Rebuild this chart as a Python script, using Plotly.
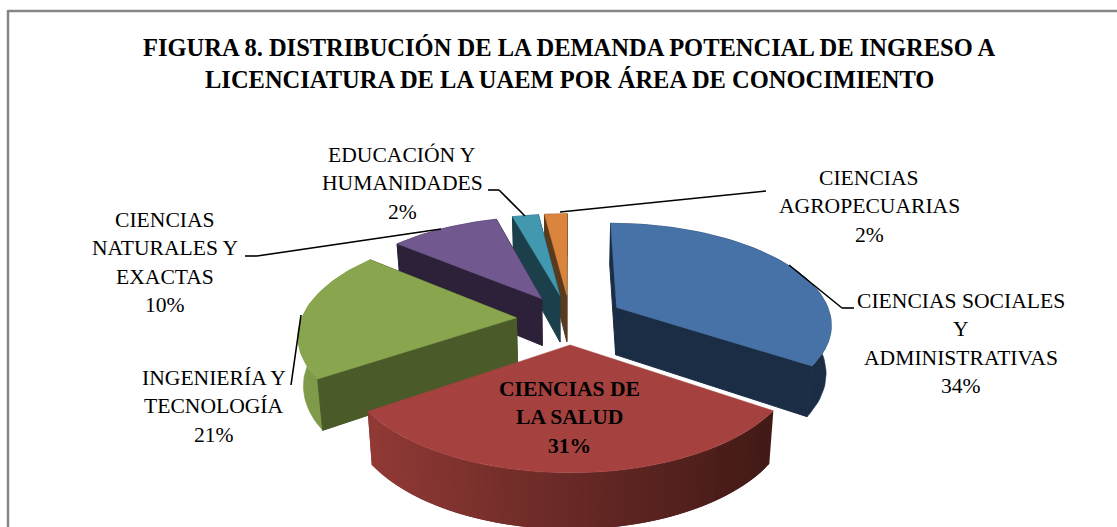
import math
import plotly.graph_objects as go

# ---- data ----
categories = ["CIENCIAS SOCIALES Y ADMINISTRATIVAS", "CIENCIAS DE LA SALUD", "INGENIERÍA Y TECNOLOGÍA",
              "CIENCIAS NATURALES Y EXACTAS", "EDUCACIÓN Y HUMANIDADES", "CIENCIAS AGROPECUARIAS"]
percent = [34, 31, 21, 10, 2, 2]                 # as printed on the labels
share = [34.4, 31.1, 20.5, 9.7, 2.3, 2.0]        # unrounded slice sizes
top_colors = ["#4672a7", "#a5423f", "#89a54e", "#71588f", "#4198af", "#db843d"]
wall_colors = ["#1b2d45", "#6b2a28", "#4a5a28", "#2c2139", "#1b3f4b", "#5a3a1c"]
curve_colors = ["#1b2d45", None, "#7f9a48", "#2c2139", "#1b3f4b", "#5a3a1c"]
title_lines = ["FIGURA 8. DISTRIBUCIÓN DE LA DEMANDA POTENCIAL DE INGRESO A",
               "LICENCIATURA DE LA UAEM POR ÁREA DE CONOCIMIENTO"]
label_names = [
    ["CIENCIAS SOCIALES", "Y", "ADMINISTRATIVAS"],
    ["CIENCIAS DE", "LA SALUD"],
    ["INGENIERÍA Y", "TECNOLOGÍA"],
    ["CIENCIAS", "NATURALES Y", "EXACTAS"],
    ["EDUCACIÓN Y", "HUMANIDADES"],
    ["CIENCIAS", "AGROPECUARIAS"],
]

# ---- layout / projection parameters ----
W, H = 1117, 527
CX, CY, A, B, K = 570, 319, 215, 100, 0.15
EXPLODE, DEPTH, TAPER = 0.25, 48, 0.02
FONT = "Liberation Serif"
LABEL_SIZE, TITLE_SIZE = 21.6, 24.5
LINE_H = 28.4
label_pos = [(961, 301), (569, 389), (214, 378), (165, 220), (402, 155), (869, 178)]
leaders = [
    [(789, 265), (842, 308), (854, 308)],
    [(301, 315), (291, 385)],
    [(441, 229), (257, 256), (245, 256)],
    [(525, 216), (499, 190), (488, 190)],
    [(560, 212), (766, 191)],
]
draw_order = [5, 4, 3, 0, 2, 1]
RED_L, RED_R = (146, 58, 54), (66, 26, 23)


def proj(X, Y, z=0.0):
    w = 1 - K * Y
    return CX + A * X / w * (1 - TAPER * z), CY + B * Y / w + z * DEPTH / (1 - 0.12 * Y)


def poly(pts, color, lw=1.0):
    xs = [p[0] for p in pts] + [pts[0][0]]
    ys = [p[1] for p in pts] + [pts[0][1]]
    return go.Scatter(x=xs, y=ys, mode="lines", fill="toself", fillcolor=color,
                      line=dict(color=color, width=lw), hoverinfo="skip", showlegend=False)


fig = go.Figure()
total = sum(share)
bounds = [0.0]
for v in share:
    bounds.append(bounds[-1] + v / total * 2 * math.pi)

for i in draw_order:
    t0, t1 = bounds[i], bounds[i + 1]
    m = (t0 + t1) / 2
    ox, oy = EXPLODE * math.sin(m), -EXPLODE * math.cos(m)
    n = max(8, int((t1 - t0) * 30))
    rim = [(ox + math.sin(t0 + (t1 - t0) * j / n), oy - math.cos(t0 + (t1 - t0) * j / n)) for j in range(n + 1)]
    # outer curved wall
    if curve_colors[i]:
        pts = [proj(*r) for r in rim] + [proj(*r, 1) for r in reversed(rim)]
        fig.add_trace(poly(pts, curve_colors[i], 0.5))
    else:
        xa, xb = proj(*rim[-1])[0], proj(*rim[0])[0]
        for j in range(n):
            f = (proj(*rim[j])[0] - xa) / (xb - xa)
            c = "rgb(%d,%d,%d)" % tuple(int(RED_L[q] + (RED_R[q] - RED_L[q]) * f) for q in range(3))
            e = min(j + 2, n)
            fig.add_trace(poly([proj(*rim[j]), proj(*rim[e]), proj(*rim[e], 1), proj(*rim[j], 1)], c, 0))
    # radial walls, drawn over the curved wall so the shared edge has no seam (red's face away and stay hidden)
    if curve_colors[i]:
        for (rx, ry) in (rim[0], rim[-1]):
            fig.add_trace(poly([proj(ox, oy), proj(rx, ry), proj(rx, ry, 1), proj(ox, oy, 1)], wall_colors[i], 1.0))
    # top face
    fig.add_trace(poly([proj(ox, oy)] + [proj(*r) for r in rim], top_colors[i], 0.5))

# frame
fig.add_shape(type="line", x0=8, y0=11, x1=W, y1=11, line=dict(color="#868686", width=2.5))
fig.add_shape(type="line", x0=8, y0=10, x1=8, y1=H, line=dict(color="#868686", width=2.5))
# leader lines
for ld in leaders:
    for a, b in zip(ld[:-1], ld[1:]):
        fig.add_shape(type="line", x0=a[0], y0=a[1], x1=b[0], y1=b[1], line=dict(color="#000000", width=1.6))


# text
def text(x, y, s, size, bold=False):
    fig.add_annotation(x=x, y=y, xref="x", yref="y", text=f"<b>{s}</b>" if bold else s, showarrow=False,
                       xanchor="center", yanchor="middle",
                       font=dict(family=FONT, size=size, color="#000000"))


for j, s in enumerate(title_lines):
    text(569, 47 + j * 32.5, s, TITLE_SIZE, True)
for i, names in enumerate(label_names):
    for j, s in enumerate(names + [f"{percent[i]}%"]):
        text(label_pos[i][0], label_pos[i][1] + j * LINE_H, s, LABEL_SIZE, i == 1)

fig.update_layout(width=W, height=H, margin=dict(l=0, r=0, t=0, b=0), paper_bgcolor="white", plot_bgcolor="white",
                  showlegend=False,
                  xaxis=dict(range=[0, W], visible=False, fixedrange=True),
                  yaxis=dict(range=[H, 0], visible=False, fixedrange=True))
fig.write_html("out.html", config=dict(displayModeBar=False),
               post_script="document.body.style.margin='0';document.documentElement.style.overflow='hidden';")
